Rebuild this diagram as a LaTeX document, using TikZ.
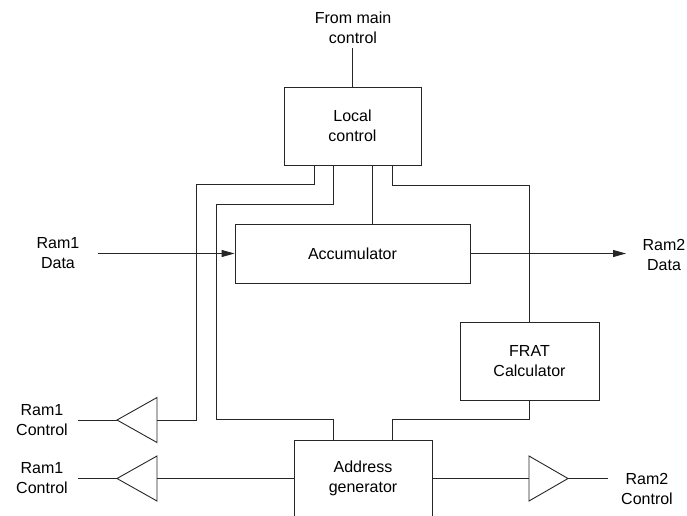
\documentclass[tikz,border=0pt]{standalone}
\usepackage{fontspec}
\setmainfont{Liberation Sans}
\usetikzlibrary{arrows.meta,calc}
\begin{document}
\begin{tikzpicture}[x=1pt,y=-1pt,
    font=\fontsize{16}{19.5}\selectfont,
    wire/.style={line width=0.9pt, black!85},
    block/.style={draw=black!85, line width=0.9pt, align=center, inner sep=0pt},
    lbl/.style={align=center, inner sep=0pt},
    arr/.style={wire, -{Triangle[length=13pt,width=7pt]}}]
  \useasboundingbox (0,0) rectangle (687,515);
  \clip (0,0) rectangle (687,515);

  % Blocks
  \node[block, minimum width=137pt, minimum height=78pt] (local) at (352.5,126) {Local\\control};
  \node[block, minimum width=235pt, minimum height=59pt] (acc) at (352.5,253.5) {Accumulator};
  \node[block, minimum width=139pt, minimum height=78pt] (frat) at (529.5,361) {FRAT\\Calculator};
  \node[block, minimum width=138pt, minimum height=77pt] (addr) at (363,478.5) {Address\\generator};

  % Outside labels
  \node[lbl] (main) at (353,28) {From main\\control};
  \node[lbl] (r1data) at (58,253) {Ram1\\Data};
  \node[lbl] (r2data) at (664,255) {Ram2\\Data};
  \node[lbl] (r1ctla) at (42,420) {Ram1\\Control};
  \node[lbl] (r1ctlb) at (42,478) {Ram1\\Control};
  \node[lbl] (r2ctl) at (647,489) {Ram2\\Control};

  % Free line ends
  \coordinate (mainin) at (352.5,48);
  \coordinate (d1) at (98,253.5);
  \coordinate (d2) at (626,253.5);

  % Buffers: base, tip and outer end
  \coordinate (b1) at (157,420);   \coordinate (t1) at (117,420);   \coordinate (e1) at (78,420);
  \coordinate (b2) at (157,478.5); \coordinate (t2) at (117,478.5); \coordinate (e2) at (78,478.5);
  \coordinate (b3) at (529,478.5); \coordinate (t3) at (568,478.5); \coordinate (e3) at (608,478.5);
  \draw[wire] (b1) ++(0,-22.5) -- (t1) -- ++(40,22.5) -- cycle;
  \draw[wire] (b2) ++(0,-22.5) -- (t2) -- ++(40,22.5) -- cycle;
  \draw[wire] (b3) ++(0,-22.5) -- (t3) -- ++(-39,22.5) -- cycle;
  \draw[wire] (t1) -- (e1);
  \draw[wire] (t2) -- (e2);
  \draw[wire] (t3) -- (e3);

  % Control wires
  \draw[wire] (mainin) -- (local.north);
  \draw[wire] ($(local.south)+(-38.5,0)$) |- (196,184) |- (b1);
  \draw[wire] ($(local.south)+(-19,0)$) |- (216,204) |- ($(addr.north)+(-30,-20)$) -- ($(addr.north)+(-30,0)$);
  \draw[wire] ($(local.south)+(20,0)$) -- ($(acc.north)+(20,0)$);
  \draw[wire] ($(local.south)+(40,0)$) -- ++(0,20) -| (frat.north);
  \draw[wire] (frat.south) |- ($(addr.north)+(29,-20)$) -- ($(addr.north)+(29,0)$);
  \draw[wire] (addr.west) -- (b2);
  \draw[wire] (addr.east) -- (b3);

  % Data path
  \draw[arr] (d1) -- (acc.west);
  \draw[arr] (acc.east) -- (d2);
\end{tikzpicture}
\end{document}
